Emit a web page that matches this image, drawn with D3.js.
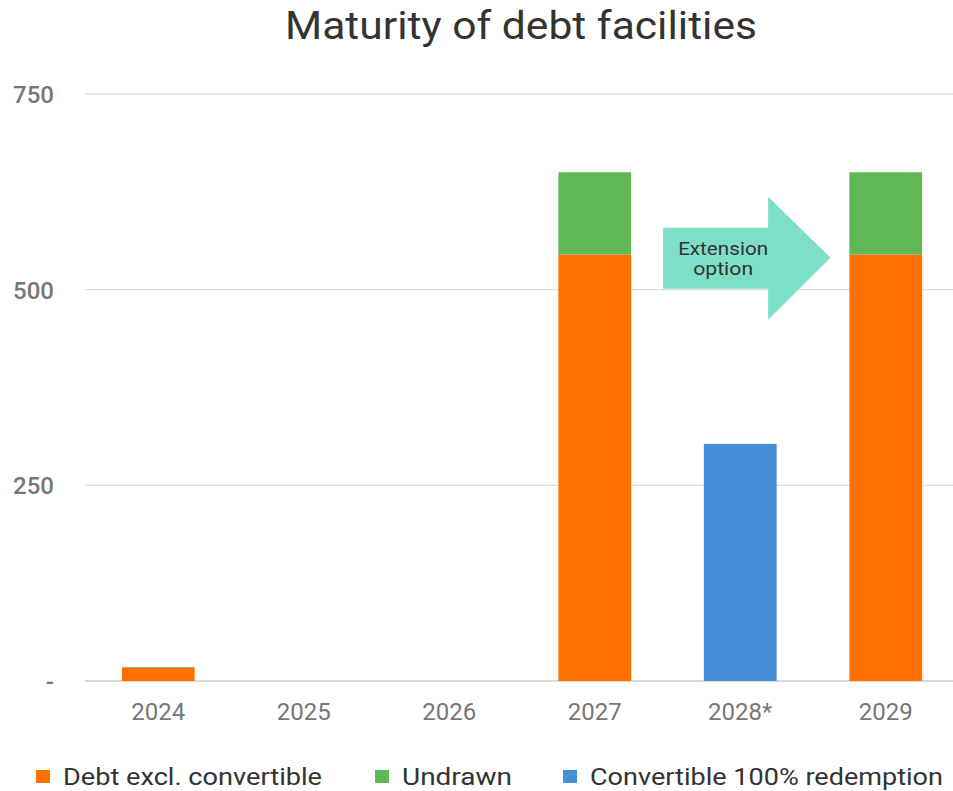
<!DOCTYPE html>
<html><head><meta charset="utf-8">
<script src="https://cdn.jsdelivr.net/npm/d3@7"></script>
<style>body{margin:0;background:#fff;} svg{display:block;font-family:Roboto, "Noto Sans", sans-serif;}</style>
</head><body>
<script>
const categories = ["2024","2025","2026","2027","2028*","2029"];
const debtExclConvertible = [17, 0, 0, 545, 0, 545];
const undrawn = [1, 0, 0, 105, 0, 105];
const convertible = [0, 0, 0, 0, 303, 0];
const yTicks = [0, 250, 500, 750];
const seriesNames = ["Debt excl. convertible", "Undrawn", "Convertible 100% redemption"];
const colors = ["#ff7000", "#5eb855", "#458ed8"];

const W = 953, H = 791;
const svg = d3.select("body").append("svg").attr("width", W).attr("height", H);

const x = d3.scaleBand().domain(categories).range([85.5, 958.5]).paddingInner(0.5).paddingOuter(0.25);
const y = d3.scaleLinear().domain([0, 750]).range([681, 94]);

// title
svg.append("text").attr("x", 285).attr("y", 39)
  .attr("font-size", 38).attr("fill", "#333")
  .attr("textLength", 472).attr("lengthAdjust", "spacingAndGlyphs")
  .text("Maturity of debt facilities");

// gridlines
svg.append("g").selectAll("line").data(yTicks).join("line")
  .attr("x1", 85).attr("x2", W).attr("y1", d => y(d)).attr("y2", d => y(d))
  .attr("stroke", d => d === 0 ? "#d9d9d9" : "#dedede").attr("stroke-width", d => d === 0 ? 2 : 1.3);

// y axis labels
const yAxis = d3.axisLeft(y).tickValues(yTicks).tickSize(0).tickPadding(0)
  .tickFormat(d => d === 0 ? "-" : d3.format("d")(d));
const ya = svg.append("g").attr("transform", "translate(54,0)").call(yAxis);
ya.select(".domain").remove();
ya.selectAll("text").attr("font-size", 24).attr("fill", "#777").attr("font-weight", 500)
  .attr("font-family", "Roboto, sans-serif").attr("dy", "0.36em");

// x axis labels
const xAxis = d3.axisBottom(x).tickSize(0).tickPadding(0);
const xa = svg.append("g").attr("transform", "translate(0,720)").call(xAxis);
xa.select(".domain").remove();
xa.selectAll("text").attr("font-size", 24).attr("fill", "#777").attr("font-family", "Roboto, sans-serif")
  .attr("dy", 0);

// stacked bars
const rows = categories.map((c, i) => ({cat: c, debt: debtExclConvertible[i], undrawn: undrawn[i], conv: convertible[i]}));
const stack = d3.stack().keys(["debt", "undrawn", "conv"]);
const layers = stack(rows);
svg.append("g").selectAll("g").data(layers).join("g").attr("fill", (d, i) => colors[i])
  .selectAll("rect").data(d => d.filter(p => p[1] - p[0] > 0)).join("rect")
  .attr("x", d => x(d.data.cat)).attr("width", x.bandwidth())
  .attr("y", d => y(d[1])).attr("height", d => y(d[0]) - y(d[1]));

// extension arrow
const ax0 = x("2027") + x.bandwidth() + 32, ax1 = x("2029") - 19;
const ay = y(500) - 32;
const bodyTop = y(500) - 62, bodyBot = y(500) - 1;
const headTop = y(500) - 93, headBot = y(500) + 30, headX = ax0 + 105;
svg.append("path").attr("fill", "#7ddfc8")
  .attr("d", `M${ax0},${bodyTop}L${headX},${bodyTop}L${headX},${headTop}L${ax1},${ay}L${headX},${headBot}L${headX},${bodyBot}L${ax0},${bodyBot}Z`);
const tx = ax0 + 60;
svg.append("text").attr("x", tx - 45).attr("y", bodyTop + 27)
  .attr("font-size", 18).attr("fill", "#333").attr("textLength", 90).attr("lengthAdjust", "spacingAndGlyphs").text("Extension");
svg.append("text").attr("x", tx - 30).attr("y", bodyTop + 47)
  .attr("font-size", 18).attr("fill", "#333").attr("textLength", 60).attr("lengthAdjust", "spacingAndGlyphs").text("option");

// legend
const legendX = [36, 375, 563];
const legendLen = [259, 110, 353];
const lg = svg.append("g").selectAll("g").data(seriesNames).join("g")
  .attr("transform", (d, i) => `translate(${legendX[i]},770)`);
lg.append("rect").attr("width", 14).attr("height", 13).attr("fill", (d, i) => colors[i]);
lg.append("text").attr("x", 27).attr("y", 15).attr("font-size", 23).attr("fill", "#333")
  .attr("textLength", (d, i) => legendLen[i]).attr("lengthAdjust", "spacingAndGlyphs").text(d => d);
</script>
</body></html>
